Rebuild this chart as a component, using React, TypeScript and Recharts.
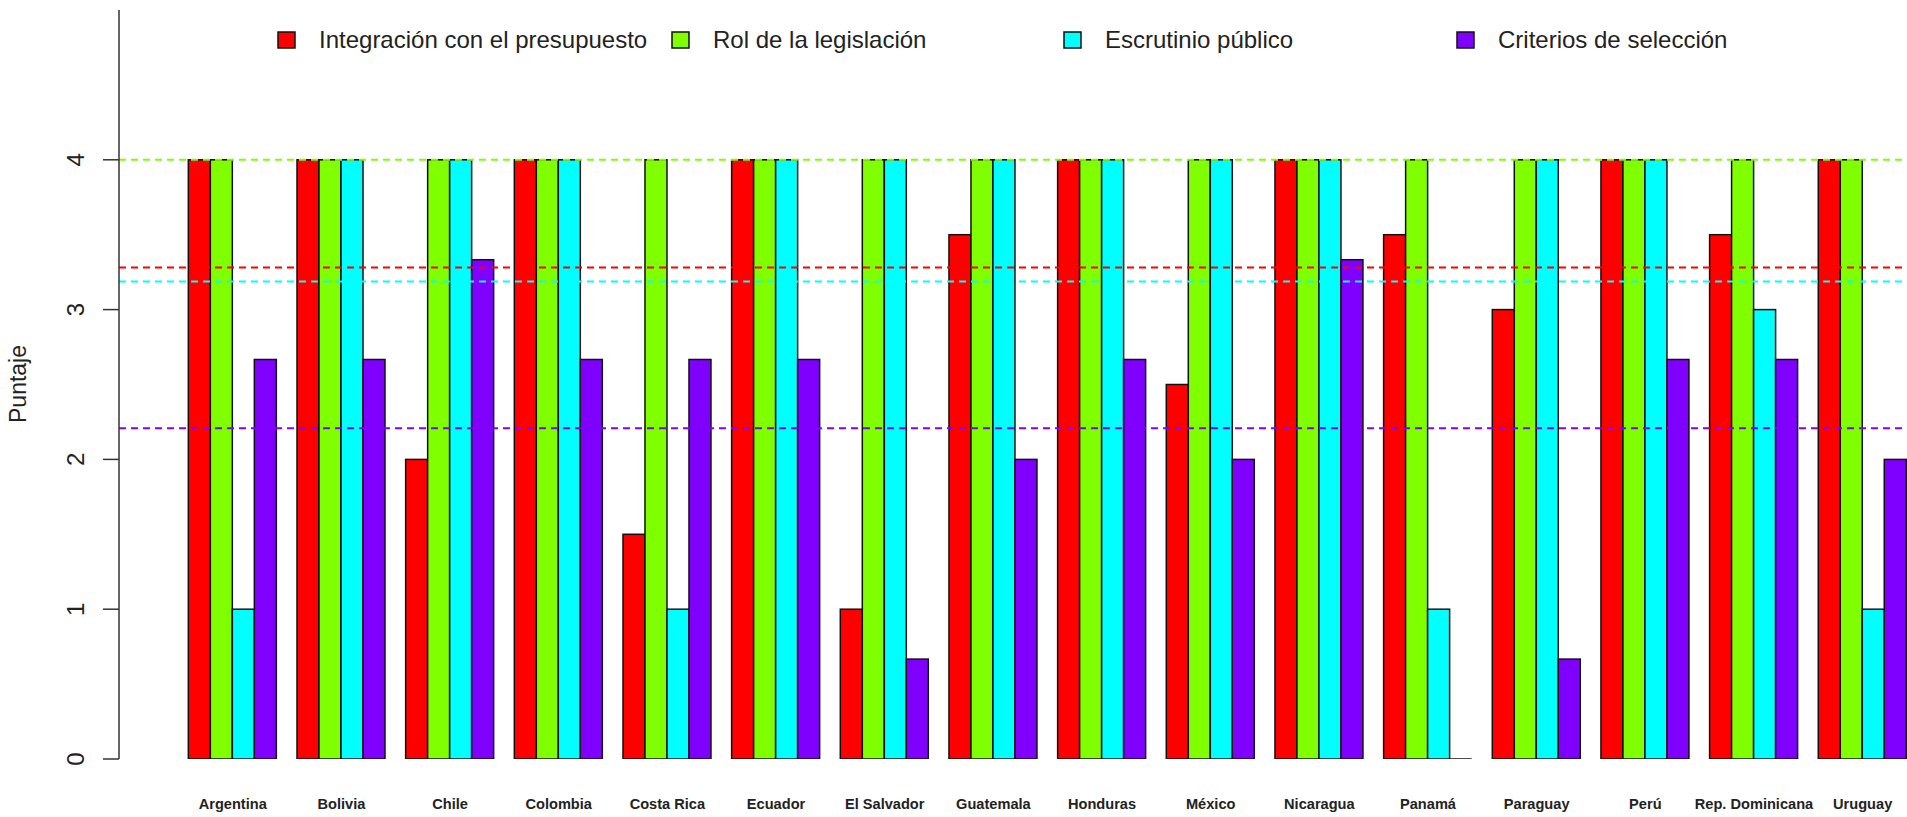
import React from 'react';
import { BarChart, Bar, XAxis, YAxis, ReferenceLine, Legend } from 'recharts';

const countries = [
  'Argentina', 'Bolivia', 'Chile', 'Colombia', 'Costa Rica', 'Ecuador', 'El Salvador', 'Guatemala',
  'Honduras', 'México', 'Nicaragua', 'Panamá', 'Paraguay', 'Perú', 'Rep. Dominicana', 'Uruguay',
];
const integracion = [4, 4, 2, 4, 1.5, 4, 1, 3.5, 4, 2.5, 4, 3.5, 3, 4, 3.5, 4];
const rolLegislacion = [4, 4, 4, 4, 4, 4, 4, 4, 4, 4, 4, 4, 4, 4, 4, 4];
const escrutinio = [1, 4, 4, 4, 1, 4, 4, 4, 4, 4, 4, 1, 4, 4, 3, 1];
const criterios = [2.667, 2.667, 3.333, 2.667, 2.667, 2.667, 0.667, 2, 2.667, 2, 3.333, 0, 0.667, 2.667, 2.667, 2];

const seriesNames = ['Integración con el presupuesto', 'Rol de la legislación', 'Escrutinio público', 'Criterios de selección'];
const seriesKeys = ['integracion', 'rol', 'escrutinio', 'criterios'];
const seriesColors = ['#FF0000', '#80FF00', '#00FFFF', '#8000FF'];
const seriesValues = [integracion, rolLegislacion, escrutinio, criterios];
const yTicks = [0, 1, 2, 3, 4];
const yLabel = 'Puntaje';

const data = countries.map((c, i) => ({
  country: c,
  integracion: integracion[i],
  rol: rolLegislacion[i],
  escrutinio: escrutinio[i],
  criterios: criterios[i],
}));

const mean = (a: number[]) => a.reduce((s, v) => s + v, 0) / a.length;

const FONT = '"Liberation Sans", Arial, Helvetica, sans-serif';
const TEXT = '#222';
const legendSquareX = [278, 672, 1064, 1457];

function BarShape(props: any) {
  const { x, y, width, height, fill } = props;
  if (!height || Math.abs(height) < 0.5) {
    return <line x1={x} x2={x + width} y1={y} y2={y} stroke="#111" strokeWidth={1.5} />;
  }
  return <rect x={x} y={y} width={width} height={height} fill={fill} stroke="#111" strokeWidth={1.5} />;
}

function XTick(props: any) {
  const { x, y, payload } = props;
  return (
    <text x={x} y={y + 50} textAnchor="middle" fontFamily={FONT} fontSize={14.6} fontWeight="bold" fill={TEXT}>
      {payload.value}
    </text>
  );
}

function YTick(props: any) {
  const { y, payload } = props;
  const bx = 84;
  return (
    <text x={bx} y={y} transform={`rotate(-90, ${bx}, ${y})`} textAnchor="middle" fontFamily={FONT} fontSize={24} fill={TEXT}>
      {payload.value}
    </text>
  );
}

function YTitle() {
  const bx = 26;
  const cy = 384;
  return (
    <text x={bx} y={cy} transform={`rotate(-90, ${bx}, ${cy})`} textAnchor="middle" fontFamily={FONT} fontSize={23} fill={TEXT}>
      {yLabel}
    </text>
  );
}

function LegendContent() {
  return (
    <svg width={1907} height={60} style={{ display: 'block' }}>
      {seriesNames.map((name, i) => (
        <g key={name}>
          <rect x={legendSquareX[i]} y={32} width={17} height={16} fill={seriesColors[i]} stroke="#111" strokeWidth={1.5} />
          <text x={legendSquareX[i] + 41} y={48} fontFamily={FONT} fontSize={24} fill={TEXT}>
            {name}
          </text>
        </g>
      ))}
    </svg>
  );
}

export default function App() {
  return (
    <div style={{ position: 'absolute', left: 0, top: 0, width: 1907, height: 817, overflow: 'hidden', background: '#fff' }}>
      <BarChart
        width={1917}
        height={817}
        data={data}
        margin={{ top: 10, right: 0, bottom: 0, left: 0 }}
        barGap={0}
        barCategoryGap={9.93}
      >
        <XAxis
          dataKey="country"
          height={58}
          axisLine={false}
          tickLine={false}
          tickSize={0}
          tickMargin={0}
          interval={0}
          padding={{ left: 59.4, right: 0 }}
          tick={<XTick />}
        />
        <YAxis
          width={119}
          domain={[0, 5]}
          ticks={yTicks}
          allowDataOverflow
          tickSize={16}
          axisLine={{ stroke: '#333', strokeWidth: 1.5 }}
          tickLine={{ stroke: '#333', strokeWidth: 1.5 }}
          tick={<YTick />}
          label={{ content: () => <YTitle /> }}
        />
        <Legend
          layout="vertical"
          align="center"
          verticalAlign="middle"
          wrapperStyle={{ top: 0, left: 0, width: 1907, height: 60 }}
          content={() => <LegendContent />}
        />
        {seriesKeys.map((k, i) => (
          <Bar key={k} dataKey={k} name={seriesNames[i]} fill={seriesColors[i]} isAnimationActive={false} shape={<BarShape />} />
        ))}
        {seriesValues.map((vals, i) => (
          <ReferenceLine key={'ref' + i} y={mean(vals)} stroke={seriesColors[i]} strokeDasharray="7 5" strokeWidth={2} />
        ))}
      </BarChart>
    </div>
  );
}
